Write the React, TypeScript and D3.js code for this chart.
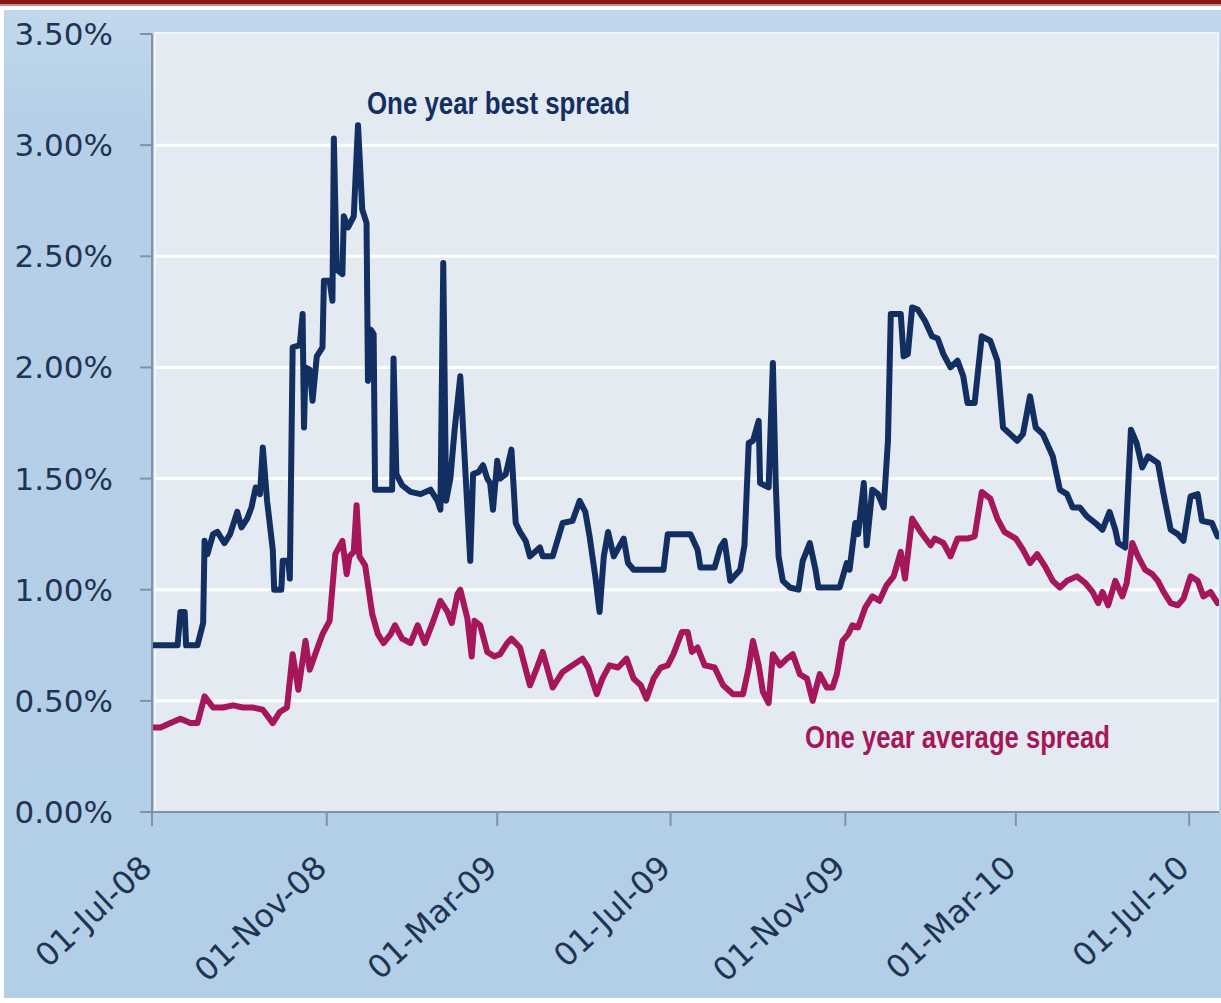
import React, { useEffect, useRef } from 'react';
import * as d3 from 'd3';

// days counted from 01-Jul-08, spreads in percent
const startDate = new Date(Date.UTC(2008, 6, 1));
const lastDay = 751;

const bestSpread: [number, number][] = [
    [0, 0.75], [18, 0.75], [20, 0.90], [23, 0.90], [24, 0.75], [32, 0.75], [36, 0.85], [37, 1.22], [39, 1.16], [43, 1.25],
    [46, 1.26], [51, 1.21], [55, 1.25], [60, 1.35], [63, 1.28], [67, 1.32], [70, 1.37], [73, 1.46], [76, 1.43], [78, 1.64],
    [81, 1.40], [85, 1.18], [86, 1.00], [91, 1.00], [92, 1.13], [96, 1.13], [97, 1.05], [99, 2.09], [104, 2.10], [106, 2.24],
    [107, 1.73], [108, 2.00], [111, 1.99], [113, 1.85], [116, 2.05], [120, 2.09], [121, 2.39], [125, 2.39], [127, 2.30], [128, 3.03],
    [130, 2.44], [134, 2.42], [135, 2.68], [138, 2.63], [142, 2.68], [145, 3.09], [148, 2.71], [151, 2.65], [152, 1.94], [154, 2.17],
    [156, 2.15], [157, 1.45], [169, 1.45], [170, 2.04], [172, 1.52], [176, 1.47], [182, 1.44], [189, 1.43], [196, 1.45], [201, 1.40],
    [203, 1.36], [205, 2.47], [207, 1.40], [210, 1.50], [213, 1.72], [217, 1.96], [220, 1.60], [224, 1.13], [226, 1.52], [230, 1.53],
    [233, 1.56], [236, 1.50], [238, 1.48], [240, 1.36], [243, 1.58], [245, 1.50], [249, 1.52], [253, 1.63], [256, 1.30], [259, 1.26],
    [263, 1.22], [266, 1.15], [273, 1.19], [275, 1.15], [282, 1.15], [289, 1.30], [296, 1.31], [301, 1.40], [305, 1.35], [308, 1.24],
    [312, 1.06], [315, 0.90], [318, 1.15], [321, 1.26], [325, 1.15], [332, 1.23], [335, 1.12], [339, 1.09], [360, 1.09], [363, 1.25],
    [379, 1.25], [384, 1.18], [386, 1.10], [396, 1.10], [400, 1.19], [403, 1.22], [407, 1.04], [414, 1.09], [417, 1.20], [420, 1.66],
    [423, 1.67], [427, 1.76], [428, 1.48], [434, 1.46], [437, 2.02], [439, 1.48], [441, 1.15], [444, 1.04], [449, 1.01], [455, 1.00],
    [458, 1.13], [463, 1.21], [467, 1.09], [469, 1.01], [484, 1.01], [489, 1.12], [491, 1.09], [495, 1.30], [497, 1.25], [501, 1.48],
    [503, 1.20], [507, 1.45], [511, 1.43], [515, 1.37], [518, 1.67], [520, 2.24], [527, 2.24], [529, 2.05], [532, 2.06], [535, 2.27],
    [539, 2.26], [544, 2.21], [549, 2.14], [553, 2.13], [557, 2.06], [562, 2.00], [567, 2.03], [571, 1.96], [574, 1.84], [579, 1.84],
    [584, 2.14], [590, 2.12], [595, 2.03], [599, 1.73], [604, 1.70], [609, 1.67], [613, 1.70], [618, 1.87], [622, 1.73], [627, 1.70],
    [634, 1.60], [639, 1.45], [644, 1.43], [648, 1.37], [653, 1.37], [658, 1.33], [664, 1.30], [669, 1.27], [674, 1.35], [678, 1.27],
    [680, 1.21], [685, 1.19], [689, 1.72], [693, 1.66], [697, 1.55], [701, 1.60], [708, 1.57], [712, 1.43], [717, 1.27], [722, 1.25],
    [726, 1.22], [731, 1.42], [736, 1.43], [739, 1.31], [746, 1.30], [750, 1.24]
];

const averageSpread: [number, number][] = [
    [0, 0.38], [6, 0.38], [13, 0.40], [20, 0.42], [27, 0.40], [32, 0.40], [37, 0.52], [43, 0.47], [50, 0.47], [57, 0.48],
    [64, 0.47], [71, 0.47], [78, 0.46], [85, 0.40], [90, 0.45], [95, 0.47], [99, 0.71], [103, 0.55], [108, 0.77], [111, 0.64],
    [116, 0.73], [120, 0.80], [125, 0.86], [129, 1.16], [134, 1.22], [137, 1.07], [139, 1.15], [142, 1.17], [144, 1.38], [146, 1.15],
    [150, 1.11], [155, 0.89], [159, 0.80], [163, 0.76], [168, 0.80], [171, 0.84], [176, 0.78], [182, 0.76], [187, 0.84], [192, 0.76],
    [198, 0.86], [203, 0.95], [208, 0.90], [211, 0.85], [215, 0.98], [217, 1.00], [222, 0.87], [225, 0.70], [227, 0.86], [231, 0.84],
    [236, 0.72], [241, 0.70], [245, 0.71], [250, 0.76], [253, 0.78], [259, 0.74], [266, 0.57], [271, 0.65], [275, 0.72], [282, 0.56],
    [289, 0.63], [296, 0.66], [303, 0.69], [307, 0.65], [313, 0.53], [317, 0.60], [322, 0.66], [328, 0.65], [334, 0.69], [339, 0.60],
    [344, 0.57], [348, 0.51], [353, 0.60], [358, 0.65], [363, 0.66], [367, 0.71], [373, 0.81], [377, 0.81], [380, 0.72], [384, 0.74],
    [389, 0.66], [396, 0.65], [402, 0.57], [409, 0.53], [416, 0.53], [420, 0.65], [423, 0.77], [427, 0.66], [430, 0.54], [434, 0.49],
    [437, 0.71], [442, 0.66], [447, 0.69], [451, 0.71], [456, 0.62], [461, 0.60], [465, 0.50], [470, 0.62], [475, 0.56], [479, 0.56],
    [482, 0.62], [486, 0.77], [490, 0.80], [493, 0.84], [497, 0.83], [502, 0.92], [507, 0.97], [512, 0.95], [517, 1.02], [522, 1.06],
    [527, 1.17], [530, 1.05], [535, 1.32], [541, 1.26], [548, 1.20], [551, 1.23], [557, 1.21], [562, 1.15], [567, 1.23], [574, 1.23],
    [579, 1.24], [584, 1.44], [590, 1.41], [595, 1.32], [600, 1.26], [608, 1.23], [613, 1.18], [618, 1.12], [623, 1.16], [629, 1.10],
    [634, 1.04], [639, 1.01], [644, 1.04], [651, 1.06], [657, 1.03], [662, 0.99], [666, 0.94], [669, 0.99], [673, 0.93], [678, 1.04],
    [683, 0.97], [686, 1.03], [690, 1.21], [694, 1.15], [699, 1.09], [704, 1.07], [708, 1.04], [712, 0.99], [717, 0.94], [722, 0.93],
    [726, 0.96], [731, 1.06], [736, 1.04], [740, 0.97], [745, 0.99], [750, 0.94]
];

const xTickDates = ['2008-07-01', '2008-11-01', '2009-03-01', '2009-07-01', '2009-11-01', '2010-03-01', '2010-07-01'];
const yTicks = [0, 0.5, 1.0, 1.5, 2.0, 2.5, 3.0, 3.5];
const seriesNames = ['One year best spread', 'One year average spread'];
const seriesColors = ['#132f62', '#a6165b'];

const W = 1221, H = 1003;

const createChart = (container: SVGSVGElement) => {
    const svg = d3.select(container);
    svg.selectAll('*').remove();

    const left = 152, right = 1219, top = 34, bottom = 812;

    const dayToDate = (d: number) => d3.utcDay.offset(startDate, d);
    const x = d3.scaleUtc().domain([startDate, dayToDate(lastDay)]).range([left, right]);
    const y = d3.scaleLinear().domain([0, 3.5]).range([bottom, top]);

    const defs = svg.append('defs');
    const grad = defs.append('linearGradient').attr('id', 'bg').attr('x1', 0).attr('y1', 0).attr('x2', 0).attr('y2', 1);
    grad.append('stop').attr('offset', '0%').attr('stop-color', '#c2d8ec');
    grad.append('stop').attr('offset', '12%').attr('stop-color', '#b4cfe7');
    grad.append('stop').attr('offset', '100%').attr('stop-color', '#b3cfe7');
    defs.append('clipPath').attr('id', 'plot-clip')
        .append('rect').attr('x', left + 1).attr('y', top - 10).attr('width', right - left - 1).attr('height', bottom - top + 10);

    svg.append('rect').attr('width', W).attr('height', H).attr('fill', '#ffffff');
    // header rule
    svg.append('rect').attr('x', 0).attr('y', 0).attr('width', W).attr('height', 4).attr('fill', '#8a1414');
    svg.append('rect').attr('x', 0).attr('y', 4).attr('width', W).attr('height', 2).attr('fill', '#c78f8f');
    svg.append('rect').attr('x', 4).attr('y', 10).attr('width', W - 4).attr('height', 988).attr('fill', 'url(#bg)');

    // plot panel
    svg.append('rect')
        .attr('x', left + 3).attr('y', top - 1).attr('width', right - left - 4).attr('height', bottom - top + 1)
        .attr('fill', '#e4eaf2').attr('stroke', '#f1f5f9').attr('stroke-width', 2);

    svg.append('g').selectAll('line')
        .data(yTicks.filter(t => t > 0 && t < 3.5))
        .enter().append('line')
        .attr('x1', left + 3).attr('x2', right - 2)
        .attr('y1', d => y(d)).attr('y2', d => y(d))
        .attr('stroke', '#ffffff').attr('stroke-width', 3);

    const line = d3.line<[number, number]>()
        .x(d => x(dayToDate(d[0])))
        .y(d => y(d[1]));

    const plot = svg.append('g').attr('clip-path', 'url(#plot-clip)');
    [bestSpread, averageSpread].forEach((series, i) => {
        plot.append('path')
            .datum(series)
            .attr('d', line)
            .attr('fill', 'none')
            .attr('stroke', seriesColors[i])
            .attr('stroke-width', 6)
            .attr('stroke-linejoin', 'round')
            .attr('stroke-linecap', 'round');
    });

    // axes
    const axisColor = '#8092a8';
    svg.append('line').attr('x1', left).attr('x2', left).attr('y1', y(3.5)).attr('y2', bottom + 14)
        .attr('stroke', axisColor).attr('stroke-width', 2);
    svg.append('line').attr('x1', left - 12).attr('x2', right).attr('y1', bottom).attr('y2', bottom)
        .attr('stroke', axisColor).attr('stroke-width', 2);

    svg.append('g').selectAll('line')
        .data(yTicks)
        .enter().append('line')
        .attr('x1', left - 12).attr('x2', left)
        .attr('y1', d => y(d)).attr('y2', d => y(d))
        .attr('stroke', axisColor).attr('stroke-width', 2);

    const fmtY = d3.format('.2%');
    svg.append('g').selectAll('text')
        .data(yTicks)
        .enter().append('text')
        .attr('x', 113)
        .attr('y', d => y(d) + 11)
        .attr('text-anchor', 'end')
        .style('font-family', 'DejaVu Sans, sans-serif')
        .style('font-size', '31px')
        .style('fill', '#1f3452')
        .text(d => fmtY(d / 100));

    const tickDates = xTickDates.map(s => new Date(s + 'T00:00:00Z'));
    const fmtX = d3.utcFormat('%d-%b-%y');
    svg.append('g').selectAll('line')
        .data(tickDates)
        .enter().append('line')
        .attr('x1', d => x(d)).attr('x2', d => x(d))
        .attr('y1', bottom).attr('y2', bottom + 14)
        .attr('stroke', axisColor).attr('stroke-width', 2);

    svg.append('g').selectAll('text')
        .data(tickDates)
        .enter().append('text')
        .attr('transform', d => `translate(${x(d) + 2},${bottom + 58}) rotate(-43)`)
        .attr('text-anchor', 'end')
        .style('font-family', 'DejaVu Sans, sans-serif')
        .style('font-size', '32px')
        .style('fill', '#1f3452')
        .text(d => fmtX(d));

    // series labels
    const labelPos = [[367, 114, 263], [805, 748, 305]];
    seriesNames.forEach((name, i) => {
        svg.append('text')
            .attr('x', labelPos[i][0])
            .attr('y', labelPos[i][1])
            .attr('textLength', labelPos[i][2])
            .attr('lengthAdjust', 'spacingAndGlyphs')
            .style('font-family', 'Liberation Sans Narrow, Liberation Sans, Arial, sans-serif')
            .style('font-weight', 'bold')
            .style('font-size', '31px')
            .style('fill', seriesColors[i])
            .text(name);
    });
};

const App = () => {
    const ref = useRef<SVGSVGElement>(null);

    useEffect(() => {
        if (ref.current) {
            createChart(ref.current);
        }
    }, []);

    return (
        <svg ref={ref} width={W} height={H}
            style={{ position: 'absolute', left: 0, top: 0, display: 'block' }} />
    );
};

export default App;
